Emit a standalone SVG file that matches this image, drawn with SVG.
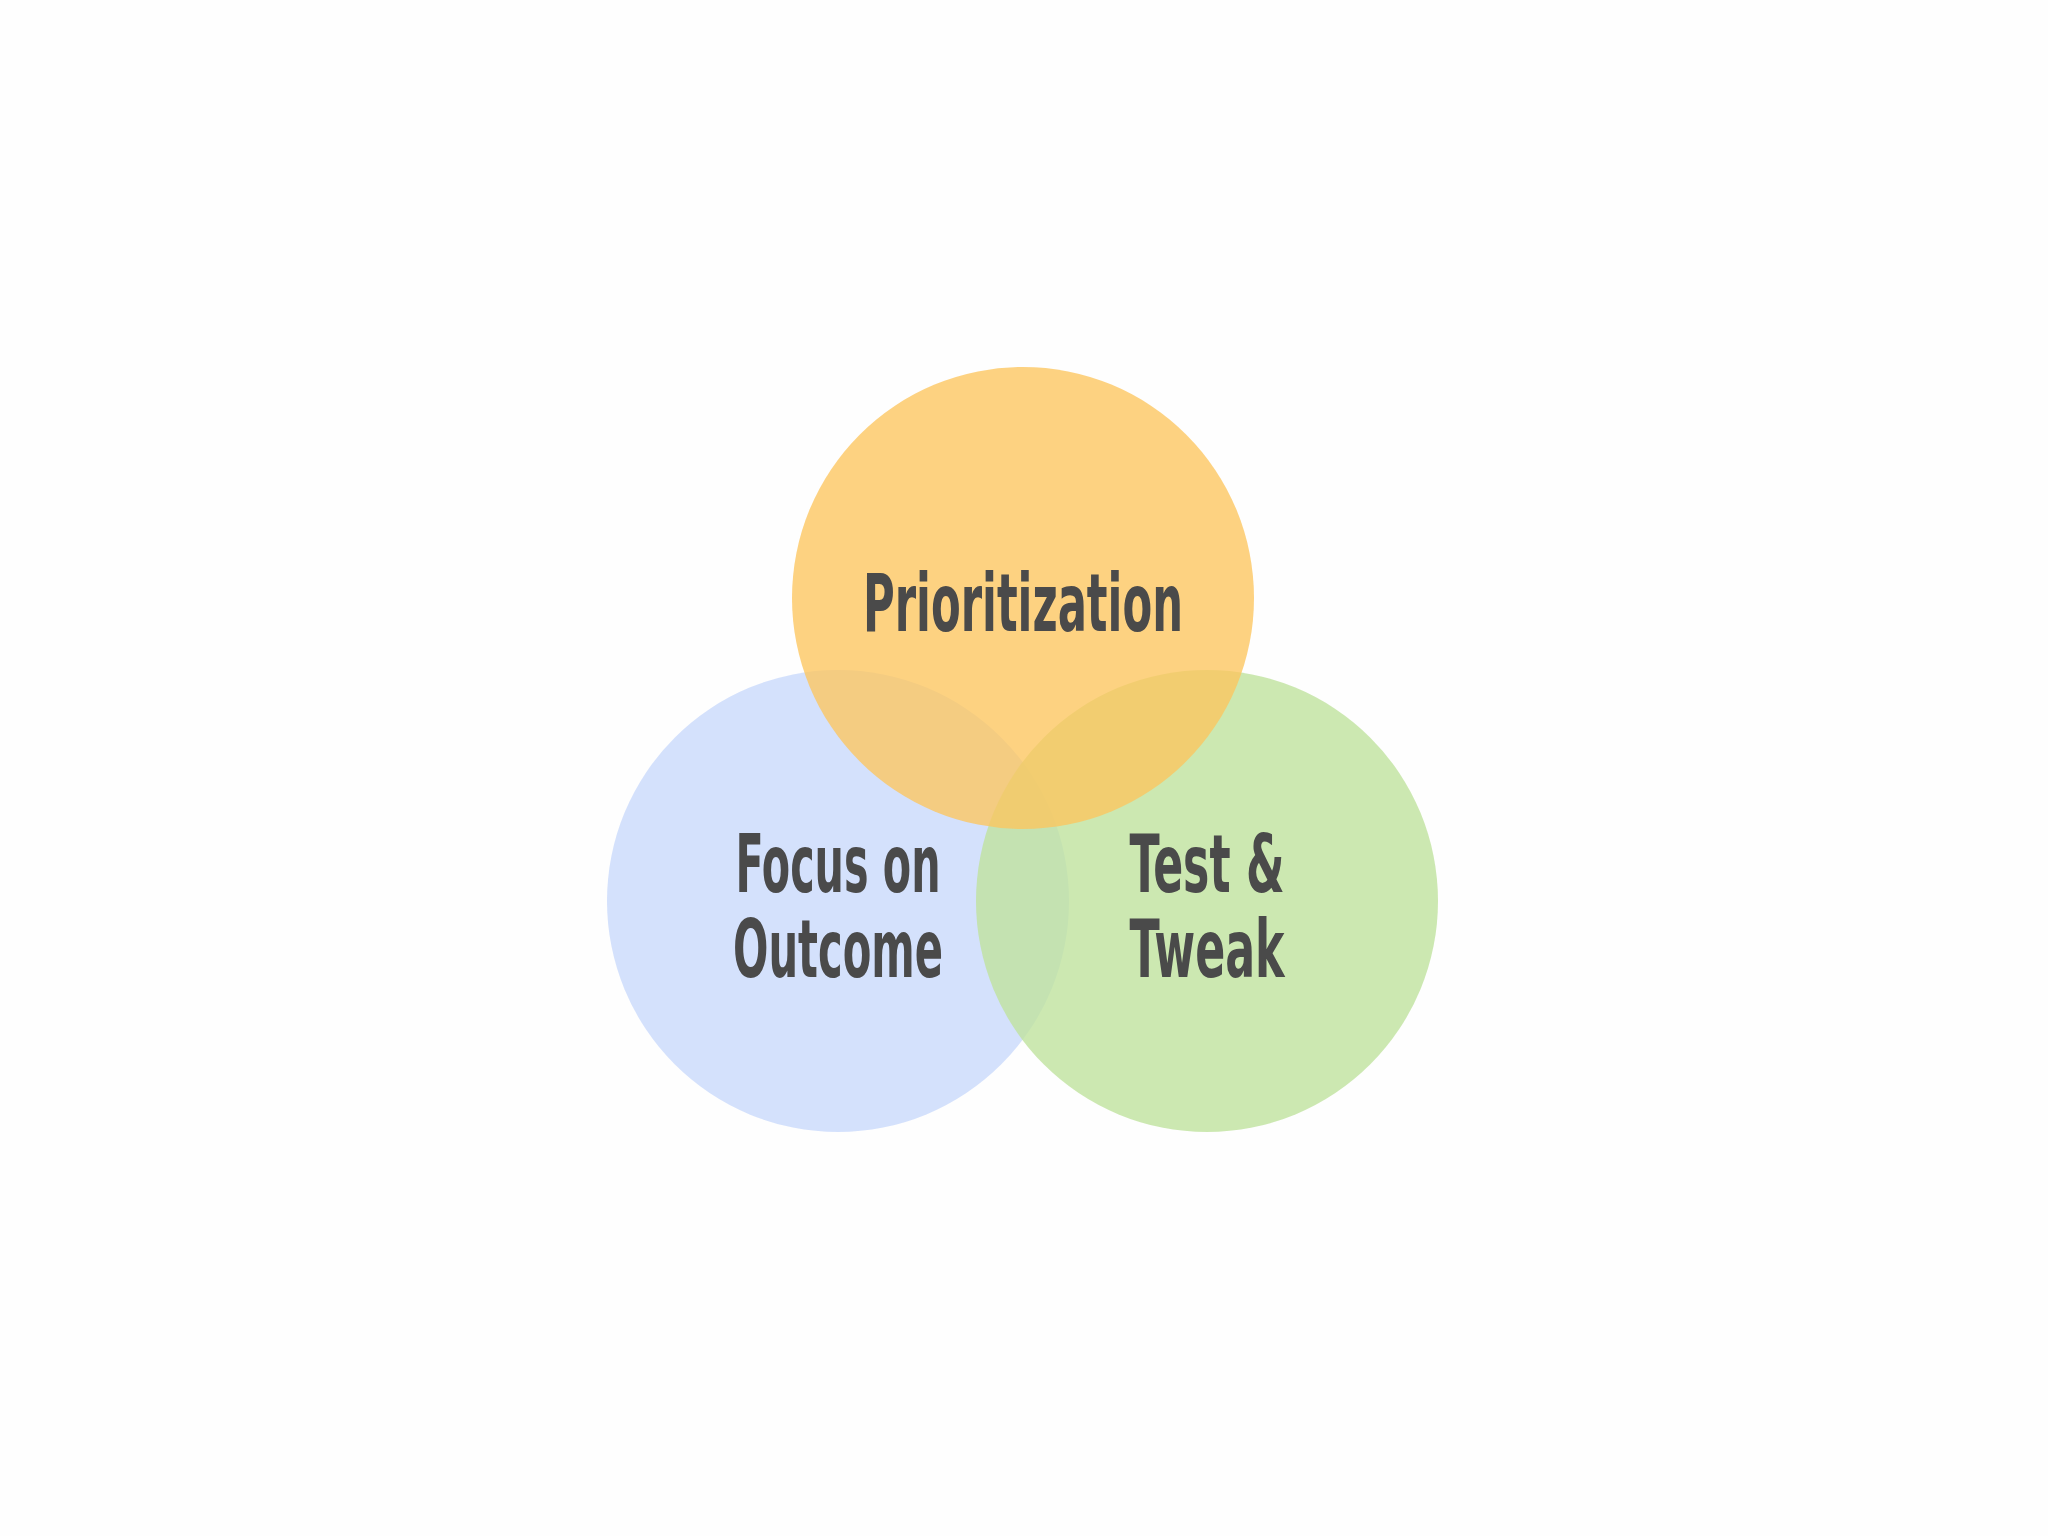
<svg xmlns="http://www.w3.org/2000/svg" width="2048" height="1536" viewBox="0 0 2048 1536">
<style>
.t{font-family:"DejaVu Sans Condensed","DejaVu Sans",sans-serif;font-weight:bold;font-size:80px;fill:#4a4a4a;text-anchor:middle}
</style>
<rect width="2048" height="1536" fill="#fefefe"/>
<g id="blue"><circle cx="838" cy="901" r="231" fill="#c9dafb" opacity="0.8"/></g>
<g id="green"><circle cx="1207" cy="901" r="231" fill="#bfe29d" opacity="0.8"/></g>
<g id="orange"><circle cx="1023" cy="598" r="231" fill="#fcc55e" opacity="0.78"/></g>
<g id="labels">
<text class="t" x="1023" y="631" textLength="320" lengthAdjust="spacingAndGlyphs">Prioritization</text>
<text class="t" x="838" y="892" textLength="205" lengthAdjust="spacingAndGlyphs">Focus on</text>
<text class="t" x="838" y="977" textLength="210" lengthAdjust="spacingAndGlyphs">Outcome</text>
<text class="t" x="1207" y="892" textLength="155" lengthAdjust="spacingAndGlyphs">Test &amp;</text>
<text class="t" x="1207" y="977" textLength="155" lengthAdjust="spacingAndGlyphs">Tweak</text>
</g>
<g id="connectors"/>
</svg>
